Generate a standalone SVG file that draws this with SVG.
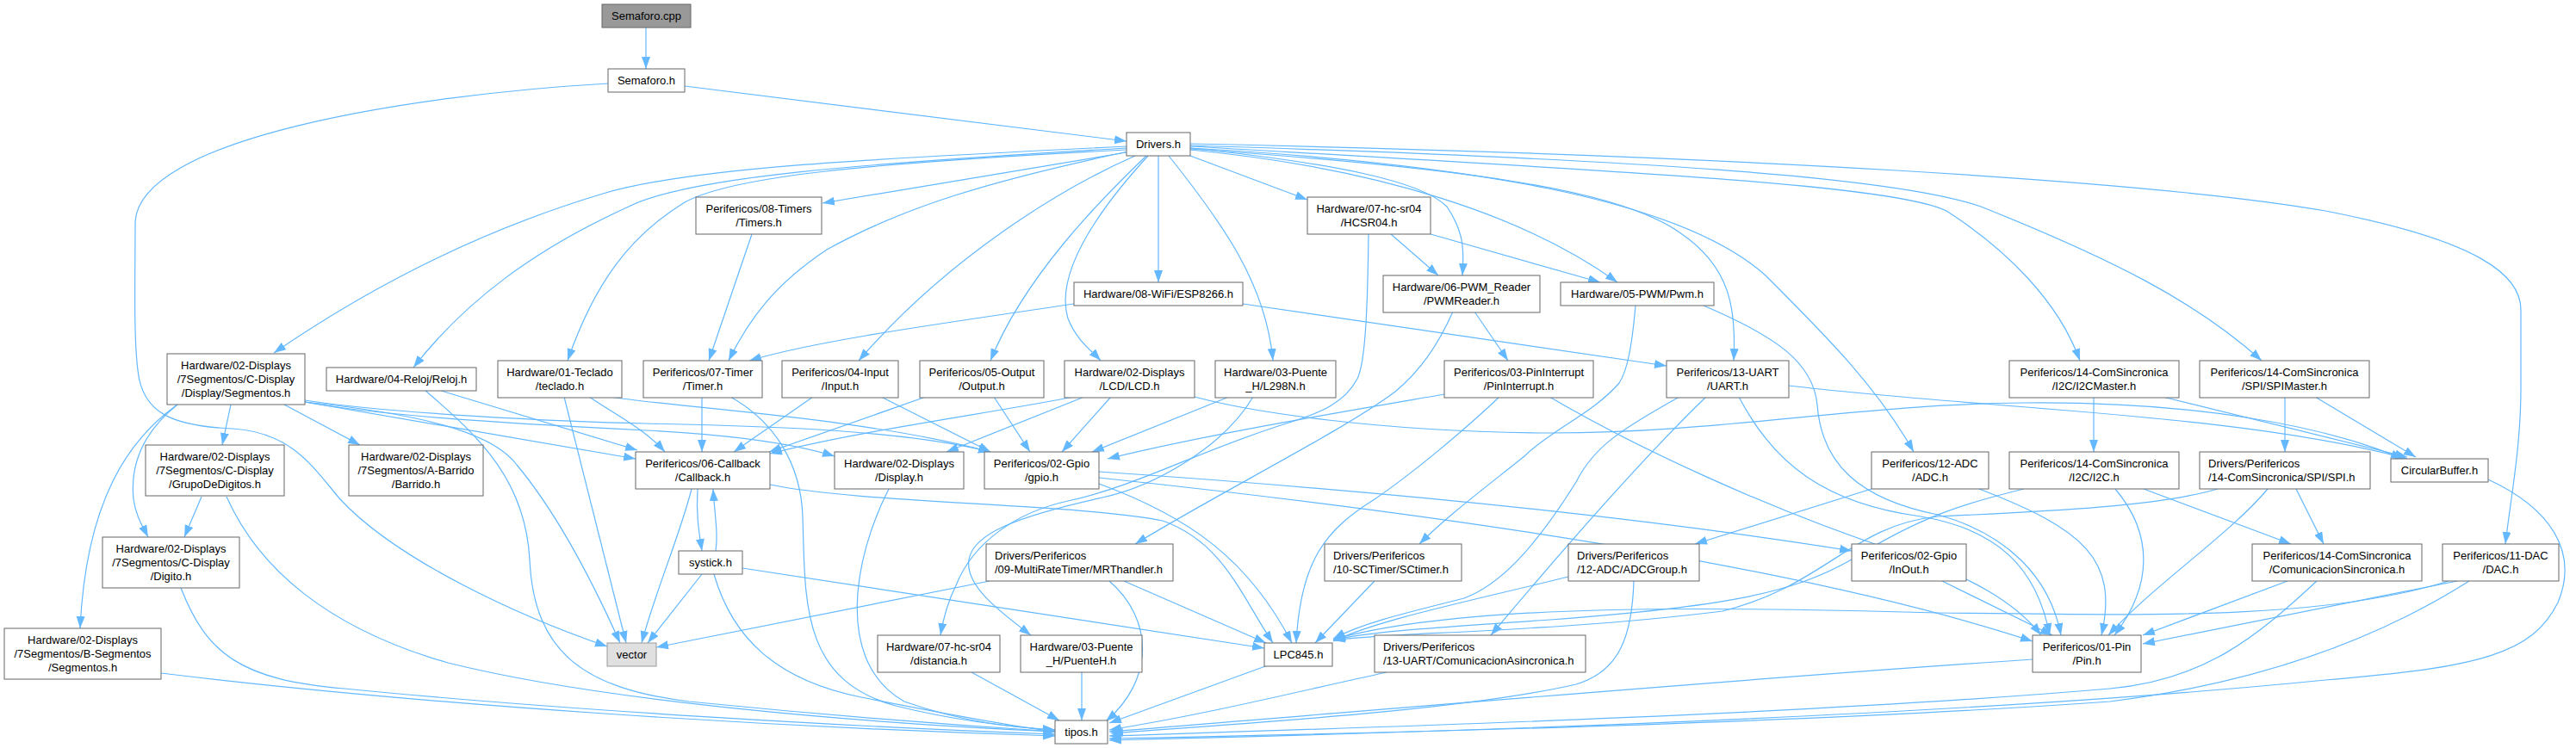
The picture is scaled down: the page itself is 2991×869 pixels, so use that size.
<svg xmlns="http://www.w3.org/2000/svg" width="2991" height="869" viewBox="0 0 2991 869">
<style>
.n rect{fill:#fff;stroke:#666;stroke-width:1}
.n text{font-family:"Liberation Sans",Arial,sans-serif;font-size:13px;fill:#000;text-anchor:middle}
.n text.l{text-anchor:start}
#n0 rect{fill:#999}
#n38 rect{fill:#e0e0e0;stroke:#999}
.e path{fill:none;stroke:#63b8ff;stroke-width:1.2;marker-end:url(#a)}
</style>
<defs>
<marker id="a" markerUnits="userSpaceOnUse" markerWidth="15" markerHeight="11" refX="14" refY="5" orient="auto"><path d="M0,0 L14,5 L0,10 z" fill="#63b8ff"/></marker>
</defs>
<rect width="2991" height="869" fill="#fff"/>
<g class="e">
<path d="M750,32 L750,80"/>
<path d="M795,100 L1308,164"/>
<path d="M706,97 C480,110 157,160 157,260 C157,320 155,390 160,430 C165,480 200,495 270,498 C340,502 365,545 395,580 C460,650 600,715 705,751"/>
<path d="M1308,170 C1000,185 800,195 700,225 C550,270 420,340 318,410"/>
<path d="M1308,172 C1000,190 800,205 730,240 C620,290 540,350 480,427"/>
<path d="M1308,174 C1000,190 850,205 795,235 C730,275 690,330 659,419"/>
<path d="M1310,176 C1150,210 1050,240 960,290 C900,330 870,370 846,419"/>
<path d="M1308,177 L955,236"/>
<path d="M1318,181 C1230,220 1100,300 997,419"/>
<path d="M1331,181 C1280,230 1190,320 1150,419"/>
<path d="M1333,181 C1270,250 1225,320 1240,370 C1250,395 1265,405 1278,419"/>
<path d="M1345,181 L1345,328"/>
<path d="M1357,181 C1420,260 1470,330 1478,419"/>
<path d="M1382,181 L1518,232"/>
<path d="M1382,172 C1550,190 1650,210 1680,240 C1700,270 1700,290 1698,320"/>
<path d="M1382,174 C1600,195 1770,250 1878,328"/>
<path d="M1382,173 C1700,195 1880,220 1950,270 C2010,310 2016,360 2013,419"/>
<path d="M1382,172 C1700,190 1950,230 2050,320 C2120,390 2180,450 2222,525"/>
<path d="M1382,170 C1900,200 2200,215 2260,245 C2330,290 2390,350 2415,419"/>
<path d="M1382,169 C1900,185 2200,205 2300,240 C2450,300 2550,350 2626,419"/>
<path d="M1382,167 C2000,180 2500,210 2700,245 C2880,280 2927,320 2927,360 L2927,450 C2927,520 2915,580 2909,632"/>
<path d="M873,272 L823,419"/>
<path d="M1247,353 C1100,375 950,395 870,419"/>
<path d="M1443,353 L1935,425"/>
<path d="M1615,272 L1670,320"/>
<path d="M1661,272 L1858,328"/>
<path d="M1589,272 C1588,350 1586,420 1576,440 C1560,470 1530,480 1500,490 C1400,520 1320,565 1240,582 C1180,595 1130,630 1110,680 C1100,700 1095,720 1092,738"/>
<path d="M1455,461 C1420,520 1340,565 1280,578 C1180,600 1130,620 1125,650 C1120,680 1160,710 1197,738"/>
<path d="M1427,461 L1268,525"/>
<path d="M1712,362 L1751,419"/>
<path d="M1687,362 C1670,400 1650,430 1620,455 C1560,500 1420,570 1318,632"/>
<path d="M1899,355 C1895,400 1890,430 1880,445 C1850,480 1800,500 1770,530 C1720,570 1680,600 1648,632"/>
<path d="M1978,355 C2060,390 2105,420 2110,470 C2115,540 2160,580 2250,598 C2330,620 2380,670 2393,738"/>
<path d="M2019,461 C2060,540 2120,585 2230,600 C2320,615 2365,660 2380,738"/>
<path d="M1981,461 C1920,520 1830,620 1731,738"/>
<path d="M1950,461 C1880,500 1850,520 1830,560 C1780,640 1740,680 1700,695 C1620,715 1580,725 1548,742"/>
<path d="M2077,448 C2300,475 2600,480 2795,533"/>
<path d="M1387,461 C1450,478 1600,502 1800,503 C2000,503 2150,470 2350,468 C2550,466 2700,495 2790,533"/>
<path d="M1677,458 C1550,480 1400,505 1286,533"/>
<path d="M1741,461 C1700,500 1640,550 1596,580 C1540,615 1510,650 1505,747"/>
<path d="M1799,461 C1900,520 2050,590 2200,640 C2290,670 2340,700 2370,738"/>
<path d="M1276,548 C1600,570 1900,600 2150,640"/>
<path d="M1276,555 C1700,600 2100,660 2360,745"/>
<path d="M1276,562 C1380,600 1450,650 1500,747"/>
<path d="M2173,568 L1968,632"/>
<path d="M2298,568 C2420,615 2460,650 2440,738"/>
<path d="M1821,670 C1700,700 1600,720 1548,745"/>
<path d="M1897,675 C1895,740 1880,780 1830,795 C1700,825 1450,840 1290,852"/>
<path d="M1596,675 L1527,747"/>
<path d="M1610,781 C1500,805 1400,830 1288,848"/>
<path d="M1472,773 L1288,840"/>
<path d="M2360,766 C2000,790 1600,825 1288,850"/>
<path d="M2690,675 C2620,740 2560,790 2450,800 C2100,830 1600,845 1288,855"/>
<path d="M2867,675 C2780,730 2650,790 2450,815 C2100,840 1600,852 1288,858"/>
<path d="M2889,557 C2960,590 2995,640 2970,700 C2940,760 2880,775 2700,790 C2300,830 1700,850 1288,860"/>
<path d="M2853,675 L2488,748"/>
<path d="M2843,675 C2700,720 2500,715 2250,712 C2000,705 1700,700 1548,743"/>
<path d="M2656,675 L2488,738"/>
<path d="M2456,568 C2500,620 2500,680 2455,738"/>
<path d="M2489,568 L2660,632"/>
<path d="M2633,568 C2590,620 2500,680 2448,738"/>
<path d="M2666,568 L2698,632"/>
<path d="M2350,568 C2280,585 2230,600 2150,650 C2080,690 2000,705 1800,720 C1650,730 1580,735 1548,744"/>
<path d="M2575,568 C2500,590 2350,595 2250,600 C2150,610 2120,680 2000,710 C1800,735 1600,735 1548,744"/>
<path d="M2431,461 L2431,525"/>
<path d="M2511,461 L2795,531"/>
<path d="M2653,461 L2653,525"/>
<path d="M2688,461 L2805,531"/>
<path d="M2255,675 L2383,738"/>
<path d="M354,467 L738,533"/>
<path d="M509,453 L740,523"/>
<path d="M684,461 C720,485 750,500 772,525"/>
<path d="M815,461 L815,525"/>
<path d="M944,461 L852,525"/>
<path d="M1075,461 L893,525"/>
<path d="M1247,461 C1150,480 1000,500 894,527"/>
<path d="M1259,461 L1099,525"/>
<path d="M1290,461 L1233,525"/>
<path d="M1023,461 L1150,525"/>
<path d="M1154,461 L1196,525"/>
<path d="M354,467 C450,485 650,495 750,500 C850,505 920,515 969,530"/>
<path d="M354,465 C450,480 650,490 750,492 C900,495 1050,500 1150,525"/>
<path d="M708,461 C800,475 1000,485 1150,525"/>
<path d="M803,568 C790,620 760,690 745,747"/>
<path d="M810,568 C808,600 812,620 815,640"/>
<path d="M831,640 C834,620 830,600 828,568"/>
<path d="M894,563 C1000,585 1250,585 1350,605 C1420,630 1440,690 1478,747"/>
<path d="M815,667 L752,747"/>
<path d="M829,667 C850,740 900,790 1000,810 C1100,830 1170,843 1225,850"/>
<path d="M862,660 L1468,753"/>
<path d="M1149,675 L762,752"/>
<path d="M1288,675 C1340,720 1340,790 1284,838"/>
<path d="M1305,675 L1470,747"/>
<path d="M1032,568 C990,650 970,770 1050,815 C1120,840 1180,845 1225,848"/>
<path d="M848,461 C900,490 930,540 932,600 C935,700 930,790 1040,820 C1100,835 1170,845 1225,848"/>
<path d="M1128,781 L1230,837"/>
<path d="M1256,781 L1256,837"/>
<path d="M493,453 C560,510 610,560 615,650 C620,760 680,800 800,815 C950,830 1100,842 1225,850"/>
<path d="M354,467 C480,480 570,500 600,540 C650,600 690,680 720,747"/>
<path d="M234,577 L214,624"/>
<path d="M263,577 C300,660 380,730 520,770 C700,815 1000,840 1225,850"/>
<path d="M210,683 C240,760 280,790 400,800 C650,825 1000,845 1225,853"/>
<path d="M187,782 C500,820 900,845 1225,855"/>
<path d="M206,470 C175,495 150,530 155,580 C158,600 165,610 172,624"/>
<path d="M206,470 C150,510 100,580 93,730"/>
<path d="M268,470 L258,517"/>
<path d="M330,470 L418,517"/>
<path d="M655,461 L727,747"/>
</g>
<g id="n0" class="n"><rect x="699" y="5" width="103" height="27"/><text x="750.5" y="23">Semaforo.cpp</text></g>
<g id="n1" class="n"><rect x="706" y="80" width="89" height="27"/><text x="750.5" y="98">Semaforo.h</text></g>
<g id="n2" class="n"><rect x="1308" y="154" width="74" height="27"/><text x="1345" y="172">Drivers.h</text></g>
<g id="n3" class="n"><rect x="808" y="229" width="146" height="43"/><text x="881" y="247">Perifericos/08-Timers</text><text x="881" y="263">/Timers.h</text></g>
<g id="n4" class="n"><rect x="1518" y="229" width="143" height="43"/><text x="1589.5" y="247">Hardware/07-hc-sr04</text><text x="1589.5" y="263">/HCSR04.h</text></g>
<g id="n5" class="n"><rect x="1247" y="328" width="196" height="27"/><text x="1345" y="346">Hardware/08-WiFi/ESP8266.h</text></g>
<g id="n6" class="n"><rect x="1606" y="320" width="182" height="43"/><text x="1697" y="338">Hardware/06-PWM_Reader</text><text x="1697" y="354">/PWMReader.h</text></g>
<g id="n7" class="n"><rect x="1812" y="328" width="178" height="27"/><text x="1901" y="346">Hardware/05-PWM/Pwm.h</text></g>
<g id="n8" class="n"><rect x="194" y="411" width="160" height="59"/><text x="274" y="429">Hardware/02-Displays</text><text x="274" y="445">/7Segmentos/C-Display</text><text x="274" y="461">/Display/Segmentos.h</text></g>
<g id="n9" class="n"><rect x="379" y="427" width="174" height="27"/><text x="466" y="445">Hardware/04-Reloj/Reloj.h</text></g>
<g id="n10" class="n"><rect x="578" y="419" width="144" height="43"/><text x="650" y="437">Hardware/01-Teclado</text><text x="650" y="453">/teclado.h</text></g>
<g id="n11" class="n"><rect x="747" y="419" width="138" height="43"/><text x="816" y="437">Perifericos/07-Timer</text><text x="816" y="453">/Timer.h</text></g>
<g id="n12" class="n"><rect x="908" y="419" width="135" height="43"/><text x="975.5" y="437">Perifericos/04-Input</text><text x="975.5" y="453">/Input.h</text></g>
<g id="n13" class="n"><rect x="1068" y="419" width="144" height="43"/><text x="1140" y="437">Perifericos/05-Output</text><text x="1140" y="453">/Output.h</text></g>
<g id="n14" class="n"><rect x="1236" y="419" width="151" height="43"/><text x="1311.5" y="437">Hardware/02-Displays</text><text x="1311.5" y="453">/LCD/LCD.h</text></g>
<g id="n15" class="n"><rect x="1411" y="419" width="140" height="43"/><text x="1481" y="437">Hardware/03-Puente</text><text x="1481" y="453">_H/L298N.h</text></g>
<g id="n16" class="n"><rect x="1677" y="419" width="173" height="43"/><text x="1763.5" y="437">Perifericos/03-PinInterrupt</text><text x="1763.5" y="453">/PinInterrupt.h</text></g>
<g id="n17" class="n"><rect x="1935" y="419" width="142" height="43"/><text x="2006" y="437">Perifericos/13-UART</text><text x="2006" y="453">/UART.h</text></g>
<g id="n18" class="n"><rect x="2333" y="419" width="197" height="43"/><text x="2431.5" y="437">Perifericos/14-ComSincronica</text><text x="2431.5" y="453">/I2C/I2CMaster.h</text></g>
<g id="n19" class="n"><rect x="2554" y="419" width="197" height="43"/><text x="2652.5" y="437">Perifericos/14-ComSincronica</text><text x="2652.5" y="453">/SPI/SPIMaster.h</text></g>
<g id="n20" class="n"><rect x="169" y="517" width="161" height="59"/><text x="249.5" y="535">Hardware/02-Displays</text><text x="249.5" y="551">/7Segmentos/C-Display</text><text x="249.5" y="567">/GrupoDeDigitos.h</text></g>
<g id="n21" class="n"><rect x="405" y="517" width="156" height="59"/><text x="483" y="535">Hardware/02-Displays</text><text x="483" y="551">/7Segmentos/A-Barrido</text><text x="483" y="567">/Barrido.h</text></g>
<g id="n22" class="n"><rect x="738" y="525" width="156" height="43"/><text x="816" y="543">Perifericos/06-Callback</text><text x="816" y="559">/Callback.h</text></g>
<g id="n23" class="n"><rect x="969" y="525" width="150" height="43"/><text x="1044" y="543">Hardware/02-Displays</text><text x="1044" y="559">/Display.h</text></g>
<g id="n24" class="n"><rect x="1143" y="525" width="133" height="43"/><text x="1209.5" y="543">Perifericos/02-Gpio</text><text x="1209.5" y="559">/gpio.h</text></g>
<g id="n25" class="n"><rect x="2173" y="525" width="136" height="43"/><text x="2241" y="543">Perifericos/12-ADC</text><text x="2241" y="559">/ADC.h</text></g>
<g id="n26" class="n"><rect x="2333" y="525" width="197" height="43"/><text x="2431.5" y="543">Perifericos/14-ComSincronica</text><text x="2431.5" y="559">/I2C/I2C.h</text></g>
<g id="n27" class="n"><rect x="2554" y="525" width="198" height="43"/><text class="l" x="2564" y="543">Drivers/Perifericos</text><text class="l" x="2564" y="559">/14-ComSincronica/SPI/SPI.h</text></g>
<g id="n28" class="n"><rect x="2776" y="533" width="113" height="27"/><text x="2832.5" y="551">CircularBuffer.h</text></g>
<g id="n29" class="n"><rect x="119" y="624" width="159" height="59"/><text x="198.5" y="642">Hardware/02-Displays</text><text x="198.5" y="658">/7Segmentos/C-Display</text><text x="198.5" y="674">/Digito.h</text></g>
<g id="n30" class="n"><rect x="788" y="640" width="74" height="27"/><text x="825" y="658">systick.h</text></g>
<g id="n31" class="n"><rect x="1145" y="632" width="217" height="43"/><text class="l" x="1155" y="650">Drivers/Perifericos</text><text class="l" x="1155" y="666">/09-MultiRateTimer/MRThandler.h</text></g>
<g id="n32" class="n"><rect x="1538" y="632" width="159" height="43"/><text class="l" x="1548" y="650">Drivers/Perifericos</text><text class="l" x="1548" y="666">/10-SCTimer/SCtimer.h</text></g>
<g id="n33" class="n"><rect x="1821" y="632" width="152" height="43"/><text class="l" x="1831" y="650">Drivers/Perifericos</text><text class="l" x="1831" y="666">/12-ADC/ADCGroup.h</text></g>
<g id="n34" class="n"><rect x="2150" y="632" width="133" height="43"/><text x="2216.5" y="650">Perifericos/02-Gpio</text><text x="2216.5" y="666">/InOut.h</text></g>
<g id="n35" class="n"><rect x="2615" y="632" width="197" height="43"/><text x="2713.5" y="650">Perifericos/14-ComSincronica</text><text x="2713.5" y="666">/ComunicacionSincronica.h</text></g>
<g id="n36" class="n"><rect x="2836" y="632" width="135" height="43"/><text x="2903.5" y="650">Perifericos/11-DAC</text><text x="2903.5" y="666">/DAC.h</text></g>
<g id="n37" class="n"><rect x="5" y="730" width="182" height="59"/><text x="96" y="748">Hardware/02-Displays</text><text x="96" y="764">/7Segmentos/B-Segmentos</text><text x="96" y="780">/Segmentos.h</text></g>
<g id="n38" class="n"><rect x="705" y="747" width="57" height="27"/><text x="733.5" y="765">vector</text></g>
<g id="n39" class="n"><rect x="1019" y="738" width="142" height="43"/><text x="1090" y="756">Hardware/07-hc-sr04</text><text x="1090" y="772">/distancia.h</text></g>
<g id="n40" class="n"><rect x="1185" y="738" width="141" height="43"/><text x="1255.5" y="756">Hardware/03-Puente</text><text x="1255.5" y="772">_H/PuenteH.h</text></g>
<g id="n41" class="n"><rect x="1468" y="747" width="79" height="27"/><text x="1507.5" y="765">LPC845.h</text></g>
<g id="n42" class="n"><rect x="1596" y="738" width="245" height="43"/><text class="l" x="1606" y="756">Drivers/Perifericos</text><text class="l" x="1606" y="772">/13-UART/ComunicacionAsincronica.h</text></g>
<g id="n43" class="n"><rect x="2360" y="738" width="126" height="43"/><text x="2423" y="756">Perifericos/01-Pin</text><text x="2423" y="772">/Pin.h</text></g>
<g id="n44" class="n"><rect x="1225" y="837" width="61" height="27"/><text x="1255.5" y="855">tipos.h</text></g>
</svg>
